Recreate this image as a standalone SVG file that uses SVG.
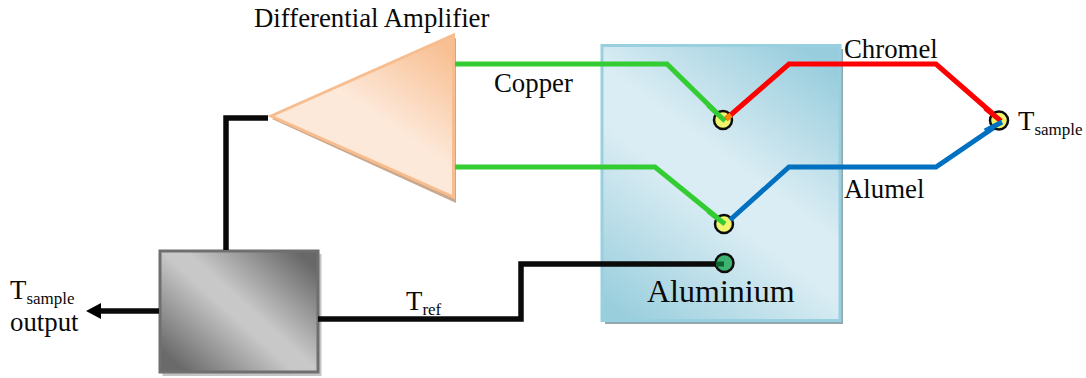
<svg xmlns="http://www.w3.org/2000/svg" width="1086" height="378" viewBox="0 0 1086 378">
<style>
text{font-family:"Liberation Serif","Times New Roman",serif;fill:#0a0a0a;font-size:26.800px}
.sub{font-size:17px}
.w{fill:none;stroke-width:5;stroke-linejoin:miter}
.g{stroke:#33cc33}.r{stroke:#ff0000}.b{stroke:#0070c0}.k{stroke:#0a0a0a;stroke-width:5.500}
.j{stroke:#0d0d0d;stroke-width:2.500}
</style>
<defs>
<linearGradient id="pg" gradientUnits="userSpaceOnUse" x1="625" y1="320" x2="820" y2="60">
<stop offset="0" stop-color="#99cedd"/><stop offset=".45" stop-color="#dbedf4"/><stop offset=".58" stop-color="#dbedf4"/><stop offset="1" stop-color="#98cddd"/>
</linearGradient>
<linearGradient id="tg" gradientUnits="userSpaceOnUse" x1="450" y1="50" x2="350" y2="195">
<stop offset="0" stop-color="#f8bf92"/><stop offset=".55" stop-color="#fde9da"/><stop offset="1" stop-color="#fde9da"/>
</linearGradient>
<linearGradient id="bg" gradientUnits="userSpaceOnUse" x1="185" y1="372" x2="295" y2="250">
<stop offset="0" stop-color="#6a6a6a"/><stop offset=".45" stop-color="#c8c8c8"/><stop offset=".55" stop-color="#c8c8c8"/><stop offset="1" stop-color="#686868"/>
</linearGradient>
<marker id="ah" markerUnits="userSpaceOnUse" markerWidth="16" markerHeight="18" refX="5" refY="9" orient="auto"><path d="M0,1L15,9L0,17Z" fill="#000"/></marker>
</defs>

<g id="panel">
<rect x="605" y="49" width="238" height="275" fill="#8fa7ad"/>
<rect x="602" y="45.500" width="238" height="275" fill="url(#pg)" stroke="#98d0df" stroke-width="3"/>
<text x="647" y="302" style="font-size:32px">Aluminium</text>
</g>

<g id="amplifier">
<path d="M272,119L456,203V38Z" fill="#c9a88e"/>
<path d="M271,116L453.500,35V197Z" fill="url(#tg)" stroke="#f8bd8e" stroke-width="3" stroke-linejoin="miter"/>
<text x="254" y="27">Differential Amplifier</text>
</g>

<g id="processor">
<rect x="162.500" y="254" width="159" height="122" fill="#c4c4c4"/>
<rect x="160" y="251" width="158" height="121" fill="url(#bg)" stroke="#6f6f6f" stroke-width="3"/>
</g>

<g id="connectors">
<path class="w k" d="M226,250V118H268"/>
<path class="w k" d="M318,319H521V264H724"/>
<path class="w k" d="M159,311H96" marker-end="url(#ah)"/>
<path class="w g" d="M455,64H667L725,121"/>
<path class="w g" d="M455,167H655L725,224"/>
</g>

<g id="junction-chromel-copper">
<circle cx="723" cy="120" r="9" fill="#f2f56c" class="j"/>
<path class="w g" d="M708,105L725,121"/>
<path class="w r" d="M726,119L789,64H936L1000,120"/>
<path d="M726,119L731,115" stroke="#f58a0a" stroke-width="5"/>
</g>

<g id="junction-alumel-copper">
<circle cx="724" cy="224" r="9" fill="#f2f56c" class="j"/>
<path class="w g" d="M708,211L725,224"/>
<path class="w b" d="M730,220L789,167H936L1002,122"/>
</g>

<g id="junction-reference">
<circle cx="724.500" cy="263" r="9" fill="#3cb371" class="j"/>
<path class="w" d="M716,264H724" style="stroke:#106030"/>
</g>

<g id="junction-sample">
<circle cx="999" cy="120.500" r="9" fill="#f2f56c" class="j"/>
<path class="w r" d="M985,108L1001,121"/>
<path class="w b" d="M985,131L1002,122"/>
</g>

<g id="labels">
<text x="494" y="92">Copper</text>
<text x="844" y="58">Chromel</text>
<text x="844" y="198">Alumel</text>
<text x="1018" y="130">T<tspan class="sub" dy="5">sample</tspan></text>
<text x="406" y="310">T<tspan class="sub" dy="5">ref</tspan></text>
<text x="10" y="299">T<tspan class="sub" dy="5">sample</tspan></text>
<text x="10" y="331">output</text>
</g>
</svg>
